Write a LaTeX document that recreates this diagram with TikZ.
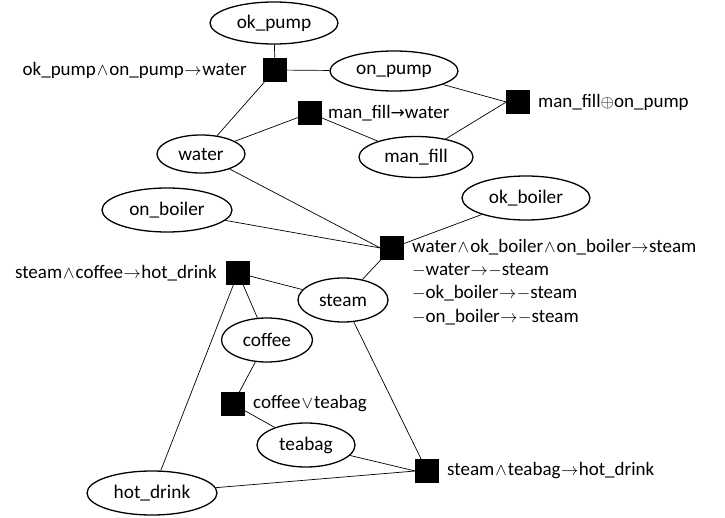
\documentclass[tikz,border=0pt]{standalone}
\usepackage{fontspec}
\setmainfont{Carlito}
\newfontfamily\symf{DejaVu Sans}
\usetikzlibrary{shapes.geometric}
\newcommand{\myand}{\kern1pt$\wedge$\kern1pt}
\newcommand{\myto}{\kern0.5pt$\rightarrow$\kern0.5pt}
\begin{document}
\begin{tikzpicture}[x=1pt,y=-1pt,
  var/.style={ellipse, draw, line width=1.3pt, minimum height=42pt, inner sep=0pt, font=\fontsize{19.3}{23}\selectfont},
  fac/.style={rectangle, draw, fill=black, minimum size=23pt, inner sep=0pt},
  lab/.style={inner sep=0pt, font=\fontsize{19}{23.3}\selectfont},
  edge/.style={line width=0.7pt}]
\useasboundingbox (0,0) rectangle (725,518);
% variables
\node[var, minimum width=128pt] (okpump) at (274,23) {ok\_pump};
\node[var, minimum width=128pt, minimum height=40pt] (onpump) at (394,71) {on\_pump};
\node[var, minimum width=114pt, minimum height=41pt] (manfill) at (416,157) {man\_fill};
\node[var, minimum width=88pt, minimum height=38pt] (water) at (201,154) {water};
\node[var, minimum width=130pt, minimum height=44pt] (onboiler) at (167,210) {on\_boiler};
\node[var, minimum width=128pt, minimum height=44pt] (okboiler) at (526,198) {ok\_boiler};
\node[var, minimum width=90pt, minimum height=44pt] (steam) at (343,300) {steam};
\node[var, minimum width=91pt, minimum height=44pt] (coffee) at (267,340) {coffee};
\node[var, minimum width=98pt, minimum height=44pt] (teabag) at (306,445) {teabag};
\node[var, minimum width=130pt, minimum height=44pt] (hotdrink) at (152,493) {hot\_drink};
% factors
\node[fac] (f1) at (275,70) {};
\node[fac] (f2) at (310,113) {};
\node[fac] (f3) at (518,102) {};
\node[fac] (fB) at (392,248) {};
\node[fac] (fC) at (238,273) {};
\node[fac] (fD) at (233,404) {};
\node[fac] (fE) at (427,471) {};
% labels
\node[lab, anchor=east] (l1) at (247,70) {ok\_pump\myand on\_pump\myto water};
\node[lab, anchor=west] (l2) at (328,113) {man\_fill{\symf\fontsize{17}{18}\selectfont →}water};
\node[lab, anchor=west] (l3) at (538,102) {man\_fill$\oplus$on\_pump};
\node[lab, anchor=west, align=left] (lB) at (412,282) {water\myand ok\_boiler\myand on\_boiler\myto steam\\ $-$water\myto$-$steam\\ $-$ok\_boiler\myto$-$steam\\ $-$on\_boiler\myto$-$steam};
\node[lab, anchor=east] (lC) at (217,273) {steam\myand coffee\myto hot\_drink};
\node[lab, anchor=west] (lD) at (253,404) {coffee\kern1pt$\vee$\kern1pt teabag};
\node[lab, anchor=west] (lE) at (447,471) {steam\myand teabag\myto hot\_drink};
% edges
\draw[edge] (okpump) -- (f1);
\draw[edge] (f1) -- (onpump);
\draw[edge] (f1) -- (water);
\draw[edge] (f2) -- (water);
\draw[edge] (f2) -- (manfill);
\draw[edge] (onpump) -- (f3.west);
\draw[edge] (manfill) -- (f3.west);
\draw[edge] (water) -- (fB.west);
\draw[edge] (onboiler) -- (fB.west);
\draw[edge] (okboiler) -- (fB);
\draw[edge] (steam) -- (fB);
\draw[edge] (fC) -- (steam);
\draw[edge] (fC) -- (coffee);
\draw[edge] (fC) -- (hotdrink);
\draw[edge] (coffee) -- (fD);
\draw[edge] (fD) -- (teabag);
\draw[edge] (steam) -- (fE);
\draw[edge] (teabag) -- (fE.west);
\draw[edge] (hotdrink) -- (fE.west);
\end{tikzpicture}
\end{document}
